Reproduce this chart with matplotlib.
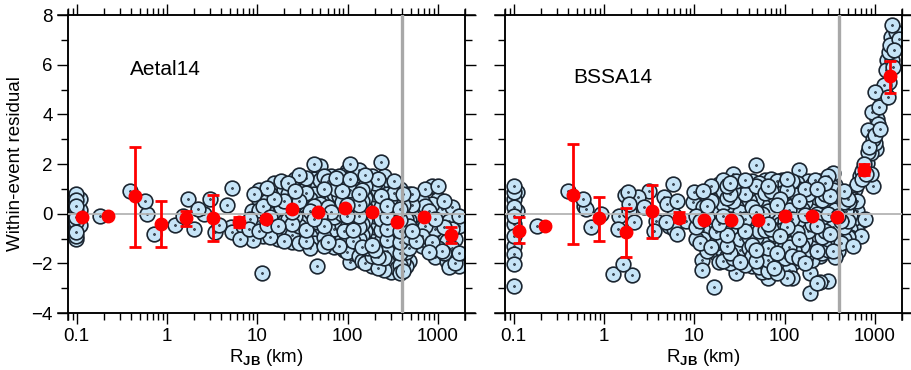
import matplotlib
matplotlib.use("Agg")
import matplotlib.pyplot as plt
import numpy as np
from matplotlib.path import Path
from matplotlib.ticker import MultipleLocator, LogLocator, NullFormatter

plt.rcParams['font.family'] = ['Liberation Sans', 'DejaVu Sans']
plt.rcParams['mathtext.fontset'] = 'custom'
plt.rcParams['mathtext.rm'] = 'Liberation Sans'
plt.rcParams['mathtext.bf'] = 'Liberation Sans:bold'

# ---- Aetal14: records, grouped as (R_JB, [residuals]) ----
aetal_cols = [
    (0.097, [0.8, 0.55, 0.3, 0.1, -0.15, -0.35, -0.55, -0.75, -0.9, -1.0]),
    (0.11, [0.6, 0.15, -0.45]),
    (0.18, [-0.08]), (0.39, [0.9]), (0.57, [0.5]), (0.6, [-0.02]), (0.72, [-0.8]),
    (1.22, [-0.45]), (1.5, [-0.1]), (1.7, [0.6]), (1.98, [-0.6]), (2.2, [0.2]),
    (2.6, [0.0]), (3.0, [0.6]), (3.36, [-0.75]), (3.8, [-0.45]), (4.6, [0.35]),
    (5.1, [-0.55]), (5.3, [1.05, -0.75]), (6.1, [-0.8]), (6.5, [-1.0]), (6.9, [-0.5]),
    (8.1, [-0.6]), (8.2, [-0.2]), (8.8, [0.1]), (9.0, [-1.05]), (9.3, [0.8]),
    (10.5, [0.95, 0.55, 0.15, -0.3, -0.7]),
    (11.2, [-2.38]),
    (11.5, [0.7, 0.3, -0.1, -0.55, -0.9]),
    (12.8, [1.05, 0.5, 0.05, -0.45, -0.8]),
    (14, [0.8, 0.35, -0.15, -0.6, -0.95]),
    (15.5, [1.25, 0.6, 0.1, -0.35, -0.8]),
    (17, [0.95, 0.45, -0.05, -0.5, -1.0]),
    (18.5, [1.3, 0.75, 0.25, -0.25, -0.7]),
    (20, [1.0, 0.5, 0.0, -0.45, -0.9, -1.1]),
    (22, [1.25, 0.8, 0.3, -0.2, -0.65]),
    (24, [1.1, 0.55, 0.05, -0.4, -0.85, -1.15]),
    (26.5, [1.4, 0.9, 0.4, -0.1, -0.6]),
    (29, [1.55, 1.0, 0.5, 0.0, -0.5, -0.95, -1.2]),
    (32, [1.2, 0.7, 0.2, -0.3, -0.75]),
    (35, [1.45, 0.85, 0.35, -0.15, -0.65, -1.1]),
    (38, [1.1, 0.6, 0.1, -0.4, -0.9, -1.4]),
    (42, [2.0, 1.4, 0.8, 0.3, -0.2, -0.7, -1.2]),
    (46, [1.2, 0.65, 0.15, -0.35, -0.85, -2.1]),
    (50, [1.9, 1.35, 0.9, 0.4, -0.1, -0.6, -1.05]),
    (55, [1.5, 1.0, 0.5, 0.0, -0.5, -0.95, -1.3]),
    (60, [1.3, 0.75, 0.25, -0.25, -0.7, -1.15]),
    (65, [1.5, 1.05, 0.55, 0.05, -0.45, -0.9, -1.25]),
    (70, [1.2, 0.8, 0.35, -0.15, -0.6, -1.05, -1.35]),
    (75, [1.45, 1.0, 0.6, 0.1, -0.35, -0.8, -1.15]),
    (80, [1.5, 1.15, 0.7, 0.25, -0.2, -0.65, -1.0, -1.3]),
    (86, [1.3, 0.9, 0.45, 0.0, -0.45, -0.9, -1.2]),
    (92, [1.55, 1.1, 0.65, 0.2, -0.25, -0.7, -1.1, -1.45]),
    (99, [1.7, 1.25, 0.8, 0.35, -0.1, -0.55, -1.0, -1.55]),
    (106, [2.0, 1.4, 0.95, 0.5, 0.05, -0.4, -0.85, -1.3, -1.95]),
    (114, [1.6, 1.15, 0.7, 0.25, -0.2, -0.65, -1.1, -1.6]),
    (122, [1.5, 1.0, 0.55, 0.1, -0.35, -0.8, -1.25, -1.8]),
    (134, [1.75, 1.25, 0.8, 0.35, -0.1, -0.55, -1.0, -1.3, -1.7]),
    (145, [1.4, 0.95, 0.5, 0.05, -0.4, -0.85, -1.35, -1.9]),
    (157, [1.55, 1.1, 0.65, 0.2, -0.25, -0.7, -1.15, -1.6, -2.0]),
    (170, [1.3, 0.85, 0.4, -0.05, -0.5, -0.95, -1.4, -1.85]),
    (185, [1.5, 1.0, 0.55, 0.1, -0.35, -0.8, -1.25, -1.7, -2.1]),
    (200, [1.25, 0.8, 0.35, -0.1, -0.55, -1.0, -1.45, -1.95]),
    (218, [1.4, 0.95, 0.5, 0.05, -0.4, -0.85, -1.3, -1.75, -2.2]),
    (234, [2.1, 1.2, 0.7, 0.25, -0.2, -0.65, -1.1, -1.55, -2.0]),
    (255, [1.5, 0.95, 0.45, 0.0, -0.45, -0.9, -1.35, -1.8, -2.25]),
    (275, [1.3, 0.8, 0.3, -0.15, -0.6, -1.05, -1.5, -1.95]),
    (300, [1.1, 0.6, 0.15, -0.3, -0.75, -1.2, -1.65, -2.1, -2.35]),
    (325, [1.3, 0.85, 0.4, -0.05, -0.5, -0.95, -1.4, -1.85, -2.3]),
    (350, [0.9, 0.45, 0.0, -0.45, -0.9, -1.35, -1.8, -2.2]),
    (380, [1.0, 0.6, 0.2, -0.25, -0.7, -1.15, -1.6, -2.05, -2.4]),
    (410, [0.8, 0.35, -0.1, -0.55, -1.0, -1.45, -1.9, -2.3]),
    (440, [0.3, -0.2, -0.65, -1.1, -1.55, -2.1]),
    (480, [0.8, 0.25, -0.25, -0.5, -0.95, -1.4, -1.9]),
    (520, [0.8, 0.35, -0.1, -0.7, -1.2]),
    (570, [0.6, 0.1, -0.7, -1.1]),
    (620, [0.4, -0.3, -0.9]),
    (670, [0.5, -0.9, -1.3]),
    (730, [1.0, 0.3, -0.5]),
    (790, [0.1, -1.55, -0.9]),
    (860, [1.1, 0.4, -1.15]),
    (930, [-0.2, -0.6, -1.75]),
    (1000, [1.1, 0.6, -1.4, -0.9]),
    (1100, [0.2, -0.4, -1.5]),
    (1170, [0.5, -0.55, -1.6]),
    (1250, [-1.1, -1.9, 0.1]),
    (1320, [-2.15, -0.3]),
    (1450, [-1.4, -0.6, 0.25]),
    (1550, [-2.0, -1.0]),
    (1700, [-0.1, -0.5, -2.1, -1.6]),
]

# binned means with error bars
aetal_mx = [0.113, 0.22, 0.44, 0.85, 1.62, 3.2, 6.35, 12.5, 24.5, 47, 94, 185, 355, 710, 1390]
aetal_my = [-0.15, -0.1, 0.7, -0.42, -0.18, -0.18, -0.35, -0.2, 0.19, 0.08, 0.23, 0.08, -0.32, -0.15, -0.86]
aetal_lo = [-0.2, -0.15, -1.35, -1.35, -0.5, -1.09, -0.55, -0.25, 0.14, 0.03, 0.18, 0.03, -0.37, -0.2, -1.2]
aetal_hi = [-0.1, -0.05, 2.68, 0.52, 0.1, 0.75, -0.15, -0.15, 0.24, 0.13, 0.28, 0.13, -0.27, -0.1, -0.55]

# ---- BSSA14 ----
bssa_cols = [
    (0.1, [1.13, 0.86, 0.59, 0.26, -0.08, -0.42, -0.89, -1.29, -1.63, -2.03, -2.9]),
    (0.11, [0.86, 0.1]),
    (0.183, [-0.48]), (0.395, [0.93]), (0.58, [0.59]), (0.6, [0.3]), (0.63, [0.19]),
    (0.72, [-0.55]), (0.92, [0.0]), (1.25, [-2.43]), (1.42, [-0.62]), (1.47, [-0.08]),
    (1.61, [-2.03]), (1.7, [0.75]), (1.83, [0.86]), (1.9, [0.39, 0.1]), (2.05, [-2.47]),
    (2.17, [-0.35]), (2.35, [0.66]), (2.8, [0.26]), (3.18, [0.93]), (3.6, [-0.68]),
    (3.78, [-0.28]), (4.67, [0.66]), (4.9, [-0.35]), (5.0, [0.39]), (5.2, [-0.48]),
    (5.6, [-0.5]), (5.8, [1.2]), (5.9, [-0.62]), (6.0, [-0.05]), (6.5, [-0.82, 0.5]),
    (8.0, [-0.3]), (9.6, [0.46]), (10, [0.86]),
    (10.5, [0.4, -0.1, -0.55, -1.0]),
    (11.5, [0.6, 0.15, -0.3, -0.8, -1.2]),
    (12.2, [-1.85, -2.25]),
    (12.6, [0.9, 0.25, -0.2, -0.65, -1.0]),
    (14, [0.7, 0.3, -0.15, -0.55, -1.1, -1.5]),
    (15.5, [1.1, 0.5, 0.0, -0.45, -0.95, -1.35]),
    (16.7, [-2.95]),
    (17.5, [0.8, 0.35, -0.25, -0.75, -1.2, -1.6]),
    (19, [1.2, 0.6, 0.1, -0.4, -0.9, -1.95]),
    (21, [1.35, 0.9, 0.4, -0.1, -0.6, -1.1, -1.5, -1.9]),
    (23, [1.1, 0.65, 0.15, -0.35, -0.85, -1.3, -1.7]),
    (25, [1.25, 0.8, 0.3, -0.2, -0.65, -1.1, -1.6, -2.0]),
    (27, [1.6, 0.95, 0.5, 0.0, -0.45, -0.95, -1.4, -1.8]),
    (29, [1.3, 0.7, 0.25, -0.3, -0.8, -1.25, -1.7, -2.4]),
    (32, [1.1, 0.55, 0.05, -0.5, -1.0, -1.45, -1.95]),
    (36, [1.35, 0.8, 0.3, -0.2, -0.7, -1.2, -1.65, -2.05]),
    (40, [1.0, 0.55, 0.05, -0.45, -0.95, -1.4, -1.85]),
    (44, [1.3, 0.75, 0.25, -0.25, -0.75, -1.25, -1.7, -2.1]),
    (48, [1.95, 1.1, 0.55, 0.05, -0.45, -0.95, -1.45, -1.9]),
    (52, [1.25, 0.75, 0.3, -0.2, -0.7, -1.2, -1.65, -2.15]),
    (56, [1.0, 0.5, 0.0, -0.5, -1.0, -1.45, -1.9, -2.35]),
    (61, [1.35, 0.85, 0.35, -0.15, -0.65, -1.15, -1.6, -2.05]),
    (66, [1.1, 0.6, 0.1, -0.4, -0.9, -1.4, -1.85, -2.3, -2.6]),
    (71, [1.4, 0.9, 0.4, -0.1, -0.6, -1.1, -1.55, -2.0]),
    (76, [1.2, 0.7, 0.2, -0.3, -0.8, -1.3, -1.75, -2.2]),
    (82, [1.3, 0.85, 0.35, -0.15, -0.65, -1.15, -1.6, -1.85, -2.4]),
    (88, [1.1, 0.6, 0.1, -0.4, -0.9, -1.4, -1.9, -2.2]),
    (94, [1.35, 0.85, 0.35, -0.15, -0.65, -1.15, -1.65, -2.1]),
    (100, [1.2, 0.7, 0.2, -0.3, -0.8, -1.3, -1.8, -2.35]),
    (106, [1.4, 0.95, 0.45, -0.05, -0.55, -1.05, -1.55, -2.0, -2.6]),
    (113, [1.15, 0.65, 0.15, -0.35, -0.85, -1.35, -1.85, -2.25]),
    (120, [1.3, 0.8, 0.3, -0.2, -0.7, -1.2, -1.7, -2.6]),
    (128, [1.05, 0.55, 0.05, -0.45, -0.95, -1.45, -1.95]),
    (137, [1.25, 0.75, 0.25, -0.25, -0.75, -1.25, -1.75]),
    (146, [1.75, 1.0, 0.5, 0.0, -0.5, -1.0, -1.5, -1.8]),
    (157, [1.2, 0.7, 0.2, -0.3, -0.8, -1.3, -1.7]),
    (168, [1.0, 0.45, -0.05, -0.55, -1.05, -1.5, -2.0]),
    (180, [1.3, 0.8, 0.3, -0.2, -0.7, -1.2, -1.6]),
    (190, [-3.2, -2.4]),
    (200, [1.15, 0.6, 0.1, -0.4, -0.9, -1.4, -1.85]),
    (215, [1.35, 0.85, 0.35, -0.15, -0.65, -1.15, -1.6]),
    (230, [1.0, 0.5, 0.0, -0.5, -1.0, -1.5, -2.8]),
    (245, [1.3, 0.75, 0.25, -0.25, -0.75, -1.25, -1.7, -2.75]),
    (260, [1.05, 0.55, 0.05, -0.45, -0.95, -1.6]),
    (280, [1.25, 0.8, 0.3, -0.2, -0.7, -1.2]),
    (300, [1.5, 1.0, 0.5, 0.0, -0.5, -1.0, -1.45, -2.7]),
    (320, [1.2, 0.7, 0.2, -0.3, -0.8, -1.3]),
    (340, [1.65, 0.95, 0.45, -0.05, -0.55, -1.05, -1.5]),
    (365, [1.15, 0.65, 0.15, -0.35, -0.85, -1.3, -1.75]),
    (390, [0.9, 0.4, -0.1, -0.6, -1.1, -1.5]),
    (420, [0.7, 0.2, -0.3, -0.8, -1.2]),
    (460, [0.9, 0.45, -0.05, -0.55, -1.0]),
    (480, [0.1]),
    (500, [0.6, 0.3, -0.3, -0.95]),
    (520, [0.45]),
    (530, [0.75, -0.05, -0.6, -0.95]),
    (560, [0.6]),
    (580, [0.4, -0.2, -1.3]),
    (600, [1.0]),
    (640, [0.5, 0.1, -0.7, 1.2]),
    (680, [1.5]),
    (700, [-0.3, -0.9]),
    (715, [1.4]), (730, [1.7]), (760, [2.0]), (780, [-0.22]), (800, [1.6]),
    (810, [2.05]), (830, [2.48]), (850, [3.35]), (870, [2.7]), (900, [2.45, 1.6]),
    (926, [4.09]), (950, [1.13]), (960, [3.0]), (1000, [2.85, 3.15, 4.9]),
    (1030, [2.61]), (1060, [3.8]), (1080, [3.62]), (1120, [4.3]), (1150, [3.4]),
    (1200, [4.6]), (1250, [5.2]), (1300, [5.1]), (1320, [5.8]), (1350, [6.2]),
    (1400, [4.69]), (1420, [6.5]), (1450, [5.3]), (1480, [6.8]), (1500, [7.1]),
    (1540, [7.58, 6.2]), (1600, [5.9]), (1650, [6.6]), (1700, [7.3]), (1850, [7.04]),
]

bssa_mx = [0.115, 0.223, 0.45, 0.89, 1.73, 3.39, 6.7, 12.9, 25.8, 51, 100, 199, 377, 760, 1470]
bssa_my = [-0.68, -0.48, 0.75, -0.19, -0.72, 0.12, -0.17, -0.25, -0.25, -0.25, -0.08, -0.08, -0.15, 1.77, 5.54]
bssa_lo = [-1.2, -0.53, -1.22, -1.09, -1.76, -0.99, -0.35, -0.3, -0.3, -0.3, -0.13, -0.13, -0.2, 1.55, 4.87]
bssa_hi = [-0.15, -0.43, 2.81, 0.66, 0.22, 1.16, 0.05, -0.2, -0.2, -0.2, -0.03, -0.03, -0.1, 2.0, 6.13]

rjb_ticks = [0.1, 1, 10, 100, 1000]
rjb_labels = ['0.1', '1', '10', '100', '1000']


def flatten(cols):
    xs = []
    ys = []
    for x, yl in cols:
        for y in yl:
            xs.append(x)
            ys.append(y)
    xs = np.array(xs)
    ys = np.array(ys)
    # mix up the drawing order so the overlap is not column by column
    key = (np.log10(xs) * 37.1 + ys * 11.3) % 1.0
    order = np.argsort(key)
    return xs[order], ys[order]


# circle with a small dot in the middle
circ = Path.unit_circle()
dot = Path(circ.vertices * 0.07, circ.codes)
dotted_circle = Path.make_compound_path(circ, dot)

fig = plt.figure(figsize=(9.12, 3.7), dpi=100)
ax1 = fig.add_axes([68 / 912, 57 / 370, 397 / 912, 298 / 370])
ax2 = fig.add_axes([505 / 912, 57 / 370, 397 / 912, 298 / 370])

panels = [
    (ax1, aetal_cols, aetal_mx, aetal_my, aetal_lo, aetal_hi, 'Aetal14', (0.39, 5.8)),
    (ax2, bssa_cols, bssa_mx, bssa_my, bssa_lo, bssa_hi, 'BSSA14', (0.46, 5.5)),
]

for ax, cols, mx, my, lo, hi, name, pos in panels:
    x, y = flatten(cols)
    ax.scatter(x, y, s=112, marker=dotted_circle, facecolor='#c6e4f7',
               edgecolor='#1b2530', linewidth=1.2, zorder=2)
    ax.axhline(0, color='#b4b4b4', lw=1.3, zorder=3)
    ax.axvline(400, color='#a8a8a8', lw=2.4, zorder=3)
    mx = np.array(mx)
    my = np.array(my)
    err = [my - np.array(lo), np.array(hi) - my]
    ax.errorbar(mx, my, yerr=err, fmt='o', color='#ff0000', ms=9, mec='#ff0000',
                elinewidth=2, capsize=4, capthick=2, zorder=4)

    ax.set_xscale('log')
    ax.set_xlim(0.08, 2000)
    ax.set_ylim(-4, 8)
    ax.set_yticks([-4, -2, 0, 2, 4, 6, 8])
    ax.yaxis.set_minor_locator(MultipleLocator(1))
    ax.set_xticks(rjb_ticks, rjb_labels)
    ax.xaxis.set_minor_locator(LogLocator(base=10, subs=np.arange(2, 10)))
    ax.xaxis.set_minor_formatter(NullFormatter())
    ax.tick_params(which='both', direction='out', top=True, right=True,
                   width=1.0, labelsize=13.5, pad=3)
    ax.tick_params(which='major', length=8)
    ax.tick_params(which='minor', length=5)
    for s in ax.spines.values():
        s.set_linewidth(1.1)
    # axis lines run a little past the corners
    for yy in (0, 1):
        ax.plot([-0.025, 1.025], [yy, yy], transform=ax.transAxes, color='k',
                lw=1.1, clip_on=False)
    for xx in (0, 1):
        ax.plot([xx, xx], [-0.025, 1.018], transform=ax.transAxes, color='k',
                lw=1.1, clip_on=False)
    ax.text(pos[0], pos[1], name, fontsize=15, va='center', ha='left')
    ax.set_xlabel(r'R$_\mathbf{JB}$ (km)', fontsize=13.5, labelpad=1)

ax2.tick_params(labelleft=False)
ax1.set_ylabel('Within-event residual', fontsize=13.5, labelpad=5)

fig.savefig('out.png', dpi=100)
